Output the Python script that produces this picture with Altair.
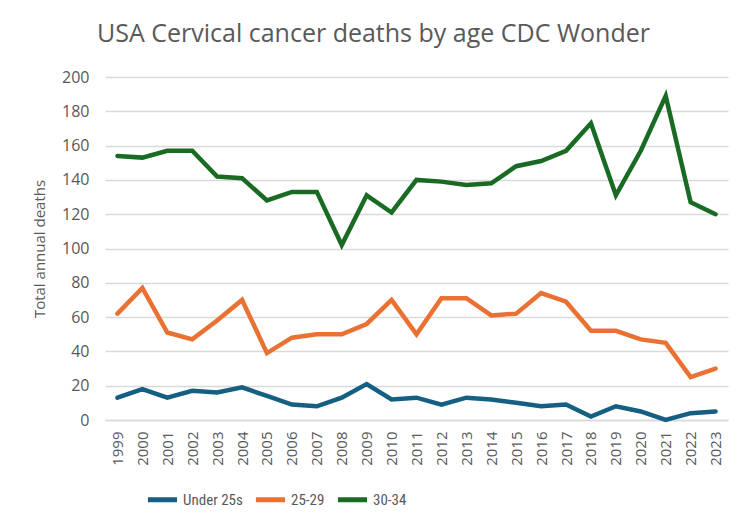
import altair as alt
import pandas as pd

years = [str(y) for y in range(1999, 2024)]
under25 = [13, 18, 13, 17, 16, 19, 14, 9, 8, 13, 21, 12, 13, 9, 13, 12, 10, 8, 9, 2, 8, 5, 0, 4, 5]
age25_29 = [62, 77, 51, 47, 58, 70, 39, 48, 50, 50, 56, 70, 50, 71, 71, 61, 62, 74, 69, 52, 52, 47, 45, 25, 30]
age30_34 = [154, 153, 157, 157, 142, 141, 128, 133, 133, 102, 131, 121, 140, 139, 137, 138, 148, 151, 157, 173, 131, 157, 189, 127, 120]
series_names = ["Under 25s", "25-29", "30-34"]
colors = ["#156082", "#E97132", "#196B24"]

rows = []
for name, vals in zip(series_names, [under25, age25_29, age30_34]):
    for y, v in zip(years, vals):
        rows.append({"Year": y, "Series": name, "Deaths": v})
df = pd.DataFrame(rows)

font = "Open Sans"
grey = "#595959"

chart = alt.Chart(df).mark_line(strokeWidth=4.5, strokeCap="round", strokeJoin="miter").encode(
    x=alt.X("Year:O", sort=years, scale=alt.Scale(type="point", padding=0.5),
            axis=alt.Axis(title=None, labelAngle=-90, labelFontSize=15, labelColor=grey,
                          labelFont=font, ticks=False, domain=True, domainColor="#D9D9D9",
                          domainWidth=1.5, labelPadding=11, grid=False)),
    y=alt.Y("Deaths:Q", scale=alt.Scale(domain=[0, 200], nice=False),
            axis=alt.Axis(title="Total annual deaths", values=list(range(0, 201, 20)),
                          labelFontSize=16, labelColor=grey, labelFont=font,
                          titleFontSize=15, titleColor=grey, titleFont=font,
                          titleFontWeight="normal", titlePadding=14,
                          ticks=False, domain=False, labelPadding=16,
                          gridColor="#D9D9D9", gridWidth=1.5)),
    color=alt.Color("Series:N", sort=series_names,
                    scale=alt.Scale(domain=series_names, range=colors),
                    legend=alt.Legend(title=None, orient="none", direction="horizontal",
                                      legendX=40, legendY=405,
                                      symbolType="stroke", symbolStrokeWidth=5, symbolSize=850,
                                      labelFontSize=15, labelColor=grey,
                                      labelFont="Roboto Condensed, DejaVu Sans Condensed, Roboto",
                                      labelOffset=3, columnPadding=2)),
).properties(
    width=623, height=343,
    title=alt.TitleParams("USA Cervical cancer deaths by age CDC Wonder", anchor="start",
                          frame="group", fontSize=25, font=font, fontWeight="normal",
                          color=grey, dx=-8, offset=22),
    padding={"left": 97, "top": 69, "right": 16, "bottom": 104},
    autosize=alt.AutoSizeParams(type="none"),
).configure_view(stroke=None)

chart.save("out.html", embed_options={"renderer": "svg", "actions": False})
